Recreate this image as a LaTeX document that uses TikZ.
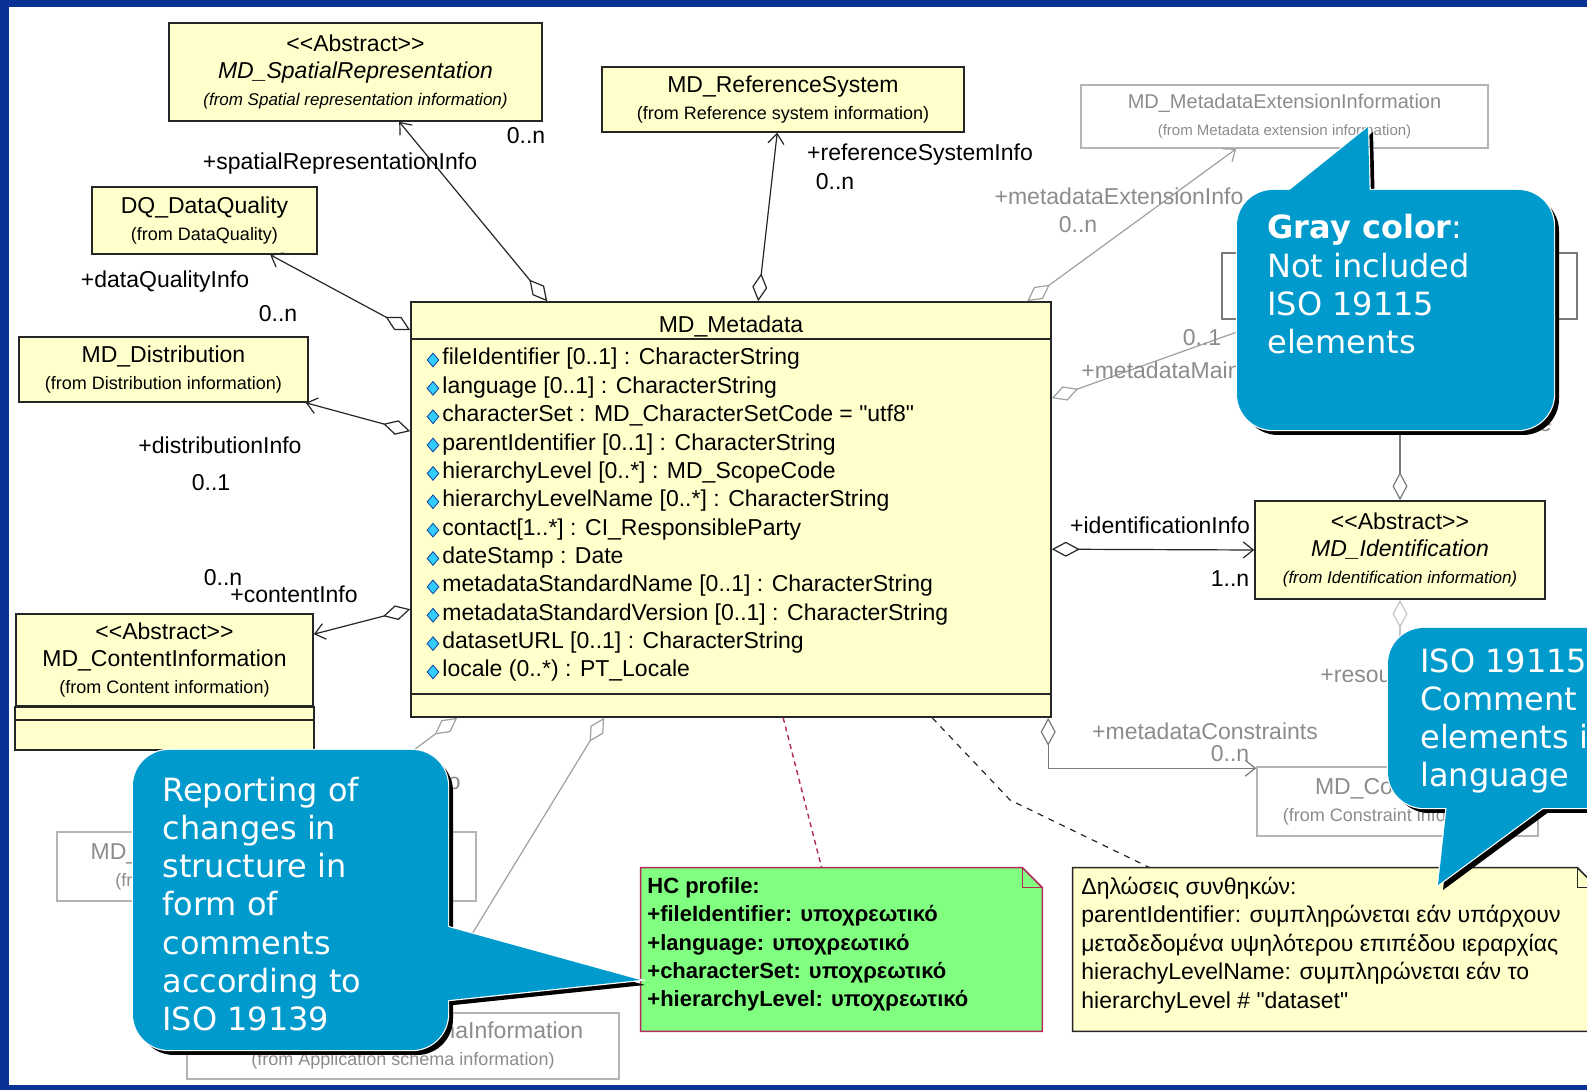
\documentclass[tikz,border=0pt]{standalone}
\usepackage{fontspec}
\setmainfont{Liberation Sans}[Ligatures=TeXOff]
\newfontfamily\calloutfont{DejaVu Sans}
\usetikzlibrary{positioning, shapes.geometric, arrows.meta, calc}

\definecolor{frameblue}{HTML}{0A3296}
\definecolor{classyellow}{HTML}{FFFFCC}
\definecolor{calloutblue}{HTML}{009BCC}
\definecolor{notegreen}{HTML}{80FF80}
\definecolor{notered}{HTML}{B4285A}
\definecolor{greyline}{HTML}{B4B4B4}
\definecolor{greytext}{HTML}{8C8C8C}
\definecolor{greyconn}{HTML}{A0A0A0}
\definecolor{darkgreyconn}{HTML}{7A7A7A}
\definecolor{lightgreyconn}{HTML}{C4C4C4}
\definecolor{attrcyan}{HTML}{33CCFF}
\definecolor{attrblue}{HTML}{1040A0}

\newcommand{\classfont}{\fontsize{11.5}{13.5}\selectfont}
\newcommand{\fromfont}{\fontsize{9}{13.5}\selectfont}
\newcommand{\abstractmark}{<{}<Abstract>{}>}
\newcommand{\sq}{\symbol{34}}
% callout: shadows first, then white edges, then fills
\newcommand{\calloutpaths}[2]{%
    \fill[calloutshadow, rounded corners=18pt] #1;
    \fill[calloutshadow] #2;
    \draw[calloutedge, rounded corners=18pt] #1;
    \draw[calloutedge] #2;
    \fill[calloutfill, rounded corners=18pt] #1;
    \fill[calloutfill] #2;}

\begin{document}
\begin{tikzpicture}[
    x=0.5pt, y=-0.5pt,
    % Styles
    classbox/.style={ % UML class
        rectangle,
        draw=black!85,
        fill=classyellow,
        line width=0.8pt,
        inner sep=0pt,
        align=center,
        font=\classfont
    },
    greybox/.style={ % Class not included
        classbox,
        draw=greyline,
        fill=white,
        text=greytext
    },
    classline/.style={ % Compartment lines
        draw=black!85,
        line width=0.8pt
    },
    attr/.style={ % Attribute line
        anchor=west,
        inner sep=0pt,
        font=\classfont
    },
    attrmark/.style={ % Attribute marker
        diamond,
        draw=attrblue,
        fill=attrcyan,
        line width=0.4pt,
        inner sep=0pt,
        minimum width=6pt,
        minimum height=7pt
    },
    role/.style={ % Role names and multiplicities
        inner sep=0pt,
        yshift=-1.5pt,
        font=\classfont
    },
    greyrole/.style={
        role,
        text=greytext
    },
    assoc/.style={ % Aggregations
        draw=black!85,
        line width=0.6pt,
        {Diamond[open, length=14pt, width=7.5pt]}-{Straight Barb[length=5pt, width=8pt]}
    },
    greyassoc/.style={
        assoc,
        draw=greyconn
    },
    darkassoc/.style={
        assoc,
        draw=darkgreyconn
    },
    lightassoc/.style={
        assoc,
        draw=lightgreyconn
    },
    notearea/.style={ % Note outline holder
        rectangle,
        inner sep=0pt
    },
    greennote/.style={
        fill=notegreen,
        draw=notered,
        line width=0.8pt
    },
    yellownote/.style={
        fill=classyellow,
        draw=black!85,
        line width=0.8pt
    },
    notetext/.style={
        anchor=west,
        align=left,
        inner sep=0pt,
        font=\fontsize{11.5}{14.2}\selectfont
    },
    anchorline/.style={ % Note attachments
        draw=black!85,
        line width=0.6pt,
        dash pattern=on 3pt off 3pt
    },
    redanchor/.style={
        draw=notered,
        line width=0.7pt,
        dash pattern=on 2.5pt off 2pt
    },
    callouttext/.style={
        anchor=west,
        align=left,
        inner sep=0pt,
        text=white,
        font=\calloutfont\fontsize{16}{19.15}\selectfont
    },
    calloutshadow/.style={
        fill=black,
        xshift=2.5pt,
        yshift=-2.5pt
    },
    calloutedge/.style={
        draw=white,
        line width=1.2pt
    },
    calloutfill/.style={
        fill=calloutblue
    }
]
    \useasboundingbox (0,0) rectangle (1587,1090);
    \clip (0,0) rectangle (1587,1090);

    % Slide frame
    \fill[frameblue] (0,0) rectangle (1587,1090);
    \fill[white] (9,7) rectangle (1587,1085);

    % Classes
    \node[classbox, minimum width=320pt, minimum height=207.5pt] (meta) at (731,509.5) {};
    \node[role] (metaname) at (731,323) {MD\_Metadata};
    \draw[classline] ($(meta.north west)+(0,38)$) -- ($(meta.north east)+(0,38)$);
    \draw[classline] ($(meta.south west)+(0,-24)$) -- ($(meta.south east)+(0,-24)$);

    \node[classbox, minimum width=186.5pt, minimum height=49pt] (spatial) at (355.5,72)
        {\abstractmark\\\textit{MD\_SpatialRepresentation}\\{\fontsize{8.5}{13.5}\selectfont\itshape (from Spatial representation information)}};
    \node[classbox, minimum width=181pt, minimum height=32.5pt] (refsys) at (783,99.5)
        {MD\_ReferenceSystem\\{\fromfont (from Reference system information)}};
    \node[greybox, minimum width=203.5pt, minimum height=31.5pt, font=\fontsize{10}{13.25}\selectfont] (ext) at (1284.5,116.5)
        {MD\_MetadataExtensionInformation\\{\fontsize{7.5}{13.25}\selectfont (from Metadata extension information)}};
    \node[classbox, minimum width=112.5pt, minimum height=33.5pt] (dq) at (204.5,220.5)
        {DQ\_DataQuality\\{\fromfont (from DataQuality)}};
    \node[classbox, minimum width=144.5pt, minimum height=32.5pt] (dist) at (163.5,369.5)
        {MD\_Distribution\\{\fromfont (from Distribution information)}};
    \node[classbox, minimum width=148.5pt, minimum height=46pt] (content) at (164.5,660)
        {\abstractmark\\MD\_ContentInformation\\{\fromfont (from Content information)}};
    \filldraw[classline, fill=classyellow] (content.south west) rectangle ($(content.south east)+(0,43)$);
    \draw[classline] ($(content.south west)+(0,13)$) -- ($(content.south east)+(0,13)$);
    \node[classbox, minimum width=145pt, minimum height=49pt] (ident) at (1400,550)
        {\abstractmark\\\textit{MD\_Identification}\\{\fontsize{8.5}{13.5}\selectfont\itshape (from Identification information)}};
    \node[greybox, draw=darkgreyconn, minimum width=177.5pt, minimum height=33pt] (maint) at (1399.5,286) {};
    \node[greybox, minimum width=140.5pt, minimum height=34.5pt] (cons) at (1397.5,801.5)
        {MD\_Constraints\\{\fromfont (from Constraint information)}};
    \node[greybox, minimum width=209.5pt, minimum height=34.5pt] (portr) at (266.5,866.5)
        {MD\_PortrayalCatalogueReference\\{\fromfont (from Portrayal catalogue information)}};
    \node[greybox, minimum width=216pt, minimum height=33pt] (appsch) at (403,1046)
        {MD\_ApplicationSchemaInformation\\{\fromfont (from Application schema information)}};

    % Attributes of MD_Metadata
    \foreach \attr [count=\i from 0] in {
        {fileIdentifier [0..1] : CharacterString},
        {language [0..1] : CharacterString},
        {characterSet : MD\_CharacterSetCode = \sq utf8\sq},
        {parentIdentifier [0..1] : CharacterString},
        {hierarchyLevel [0..*] : MD\_ScopeCode},
        {hierarchyLevelName [0..*] : CharacterString},
        {contact[1..*] : CI\_ResponsibleParty},
        {dateStamp : Date},
        {metadataStandardName [0..1] : CharacterString},
        {metadataStandardVersion [0..1] : CharacterString},
        {datasetURL [0..1] : CharacterString},
        {locale (0..*) : PT\_Locale}
    }{
        \node[attrmark] (d\i) at (433, {360+28.36*\i}) {};
        \node[attr] (a\i) at (442, {359+28.36*\i}) {\attr};
    }

    % Aggregations from MD_Metadata
    \draw[assoc] ($(meta.north west)+(137,0)$) -- ($(spatial.south west)+(231,0)$);
    \draw[assoc] ($(meta.north west)+(348,0)$) -- ($(refsys.south west)+(176,0)$);
    \draw[greyassoc] ($(meta.north west)+(617,0)$) -- ($(ext.south west)+(156,0)$);
    \draw[assoc] ($(meta.north west)+(0,29)$) -- ($(dq.south west)+(179,0)$);
    \draw[assoc] ($(meta.north west)+(0,130)$) -- ($(dist.south east)+(-3,0)$);
    \draw[assoc] ($(meta.north west)+(0,308)$) -- ($(content.north east)+(0,21)$);
    \draw[assoc] ($(meta.north east)+(0,248)$) -- (ident.west);
    \draw[greyassoc] ($(meta.north east)+(0,97)$) -- ($(maint.south west)+(50,0)$);
    \draw[darkassoc] ($(meta.south west)+(638,0)$) |- ($(cons.north west)+(0,2)$);
    \draw[greyassoc] ($(meta.south west)+(47,0)$) -- ($(portr.north west)+(248,0)$);
    \draw[greyassoc] ($(meta.south west)+(194,0)$) -- ($(appsch.north west)+(238,0)$);
    \draw[darkassoc] (ident.north) -- (ident.north |- maint.south);
    \draw[lightassoc] (ident.south) -- (ident.south |- cons.north);

    % Role names and multiplicities
    \node[role] (r-sr) at (340,161) {+spatialRepresentationInfo};
    \node[role] (m-sr) at (526,133) {0..n};
    \node[role] (r-rs) at (920,152) {+referenceSystemInfo};
    \node[role] (m-rs) at (835,179) {0..n};
    \node[greyrole] (r-ext) at (1119,193) {+metadataExtensionInfo};
    \node[greyrole] (m-ext) at (1078,222) {0..n};
    \node[role] (r-dq) at (165,279) {+dataQualityInfo};
    \node[role] (m-dq) at (278,311) {0..n};
    \node[role] (r-dist) at (220,442) {+distributionInfo};
    \node[role] (m-dist) at (211,480) {0..1};
    \node[role] (m-ci) at (223,575) {0..n};
    \node[role] (r-ci) at (294,591) {+contentInfo};
    \node[role] (r-id) at (1160,522) {+identificationInfo};
    \node[role] (m-id) at (1230,576) {1..n};
    \node[greyrole] (m-mm) at (1202,335) {0..1};
    \node[greyrole, anchor=west] (r-mm) at (1081,367) {+metadataMaintenance};
    \node[greyrole, anchor=east] (r-rm) at (1552,420) {+resourceMaintenance};
    \node[greyrole, anchor=west] (r-rc) at (1320,671) {+resourceConstraints};
    \node[greyrole] (r-mc) at (1205,728) {+metadataConstraints};
    \node[greyrole] (m-mc) at (1230,751) {0..n};
    \node[greyrole, anchor=east] (r-pc) at (461,781) {+portrayalCatalogueInfo};

    % Notes
    \node[notearea, minimum width=200.5pt, minimum height=81.5pt] (hcnote) at (841.5,949.5) {};
    \filldraw[greennote] (hcnote.north west) -- ($(hcnote.north east)+(-20,0)$)
        -- ($(hcnote.north east)+(0,20)$) -- (hcnote.south east) -- (hcnote.south west) -- cycle;
    \draw[greennote, fill=none] ($(hcnote.north east)+(-20,0)$) |- ($(hcnote.north east)+(0,20)$);
    \node[notetext, font=\bfseries\fontsize{11}{14.2}\selectfont] (hctext) at (647,944.5)
        {HC profile:\\+fileIdentifier: υποχρεωτικό\\+language: υποχρεωτικό\\+characterSet: υποχρεωτικό\\+hierarchyLevel: υποχρεωτικό};

    \node[notearea, minimum width=262pt, minimum height=81.5pt] (ynote) at (1335,949.5) {};
    \filldraw[yellownote] (ynote.north west) -- ($(ynote.north east)+(-20,0)$)
        -- ($(ynote.north east)+(0,20)$) -- (ynote.south east) -- (ynote.south west) -- cycle;
    \draw[yellownote, fill=none] ($(ynote.north east)+(-20,0)$) |- ($(ynote.north east)+(0,20)$);
    \node[notetext] (ytext) at (1081,945)
        {Δηλώσεις συνθηκών:\\parentIdentifier: συμπληρώνεται εάν υπάρχουν\\μεταδεδομένα υψηλότερου επιπέδου ιεραρχίας\\hierachyLevelName: συμπληρώνεται εάν το\\hierarchyLevel \# \sq dataset\sq};

    % Note attachments
    \coordinate (nbend) at (1010,800);
    \draw[redanchor] ($(meta.south west)+(373,0)$) -- ($(hcnote.north west)+(181,0)$);
    \draw[anchorline] ($(meta.south west)+(522,0)$) -- (nbend) -- ($(ynote.north west)+(77,0)$);

    % Callouts
    \calloutpaths{(133,750) rectangle (448,1050)}{(430,922) -- (640,980) -- (430,1002) -- cycle}
    \calloutpaths{(1237,190) rectangle (1554,430)}{(1271,205) -- (1368,127) -- (1370,205) -- cycle}
    \calloutpaths{(1388,628) rectangle (1700,808)}{(1448,795) -- (1438,885) -- (1560,795) -- cycle}

    \node[callouttext] (reporttext) at (162,904)
        {Reporting of\\changes in\\structure in\\form of\\comments\\according to\\ISO 19139};
    \node[callouttext] (graytext) at (1267,284.5)
        {\textbf{Gray color}:\\Not included\\ISO 19115\\elements};
    \node[callouttext] (commenttext) at (1420,721)
        {ISO 19115\\Comment\\elements in\\language};
\end{tikzpicture}
\end{document}
